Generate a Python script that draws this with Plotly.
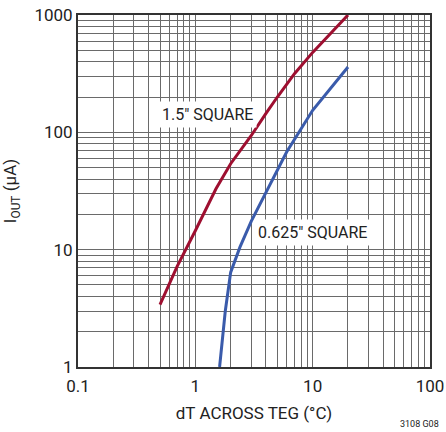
import plotly.graph_objects as go

# 1.5" square TEG
dt_large = [0.5, 0.7, 1, 1.5, 2, 3, 4, 5, 7, 10, 20]
iout_large = [3.4, 7.2, 14.5, 33, 54, 94, 145, 200, 316, 480, 1000]

# 0.625" square TEG
dt_small = [1.61, 1.8, 2, 2.4, 3, 4, 6, 10, 20]
iout_small = [1.0, 3.0, 6.4, 10.5, 17.5, 31, 68, 154, 360]

x_grid = [0.1, 0.2, 0.3, 0.4, 0.5, 0.6, 0.7, 0.8, 0.9,
          1, 2, 3, 4, 5, 6, 7, 8, 9,
          10, 20, 30, 40, 50, 60, 70, 80, 90, 100]
x_labels = ["0.1"] + [" "] * 8 + ["1"] + [" "] * 8 + ["10"] + [" "] * 8 + ["100"]
y_grid = [1, 2, 3, 4, 5, 6, 7, 8, 9,
          10, 20, 30, 40, 50, 60, 70, 80, 90,
          100, 200, 300, 400, 500, 600, 700, 800, 900, 1000]
y_labels = ["1"] + [" "] * 8 + ["10"] + [" "] * 8 + ["100"] + [" "] * 8 + ["1000"]

FONT = "Roboto, Liberation Sans, Arial, sans-serif"
RED = "#9E0F30"
BLUE = "#3A5BAB"
TXT = "#222"

fig = go.Figure()
fig.add_trace(go.Scatter(x=dt_large, y=iout_large, mode="lines",
                         line=dict(color=RED, width=3),
                         showlegend=False))
fig.add_trace(go.Scatter(x=dt_small, y=iout_small, mode="lines",
                         line=dict(color=BLUE, width=3),
                         showlegend=False))

fig.add_annotation(x=-0.314, y=2.153, xref="x", yref="y", text='1.5" SQUARE',
                   showarrow=False, xanchor="left", yanchor="middle",
                   bgcolor="white", borderpad=3,
                   font=dict(family=FONT, size=16, color=TXT))
fig.add_annotation(x=0.496, y=1.147, xref="x", yref="y", text='0.625" SQUARE',
                   showarrow=False, xanchor="left", yanchor="middle",
                   bgcolor="white", borderpad=3,
                   font=dict(family=FONT, size=16, color=TXT))
fig.add_annotation(x=1, y=0, xref="paper", yref="paper", text="3108 G08",
                   showarrow=False, xanchor="right", yanchor="middle",
                   xshift=11, yshift=-57,
                   font=dict(family=FONT, size=9, color=TXT))

fig.update_xaxes(type="log", range=[-1, 2], tickvals=x_grid, ticktext=x_labels,
                 showgrid=True, gridcolor="#6a6a6a", gridwidth=1,
                 showline=True, linecolor="#333", linewidth=2, mirror=True,
                 ticks="", automargin=False, tickangle=0,
                 ticklabeloverflow="allow", ticklabelstandoff=3,
                 tickfont=dict(family=FONT, size=17, color=TXT),
                 title=dict(text="dT ACROSS TEG (°C)", standoff=12,
                            font=dict(family=FONT, size=17, color=TXT)),
                 zeroline=False)
fig.update_yaxes(type="log", range=[0, 3], tickvals=y_grid, ticktext=y_labels,
                 showgrid=True, gridcolor="#6a6a6a", gridwidth=1,
                 showline=True, linecolor="#333", linewidth=2, mirror=True,
                 ticks="", automargin=False,
                 ticklabeloverflow="allow",
                 tickfont=dict(family=FONT, size=17, color=TXT),
                 title=dict(text="I<sub>OUT</sub> (μA)", standoff=14,
                            font=dict(family=FONT, size=17, color=TXT)),
                 zeroline=False)

fig.update_layout(width=446, height=432,
                  margin=dict(l=78, r=16, t=15, b=65),
                  paper_bgcolor="white", plot_bgcolor="white")

fig.write_html("out.html",
               config={"displayModeBar": False},
               post_script="document.body.style.margin='0';"
                           "document.body.style.overflow='hidden';")
